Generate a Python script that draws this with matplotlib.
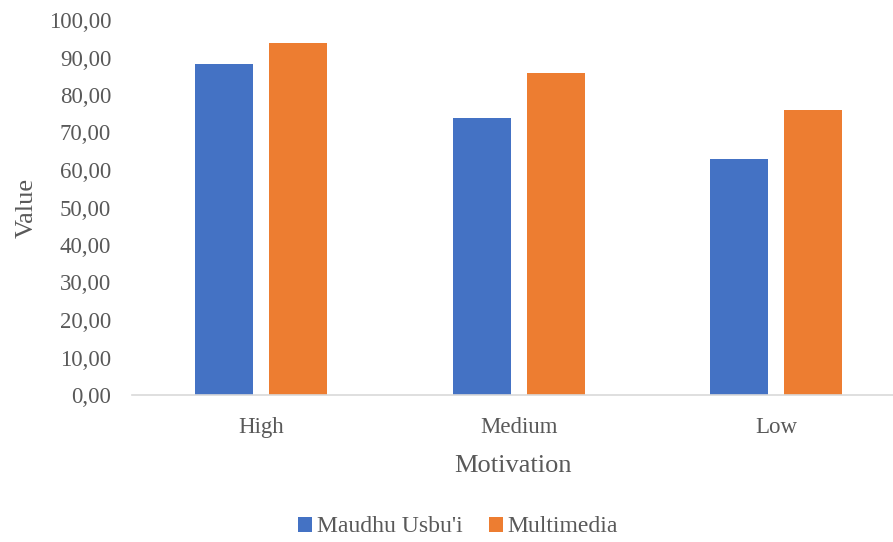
import numpy as np
import matplotlib.pyplot as plt

plt.rcParams["font.family"] = "Liberation Serif"

categories = ["High", "Medium", "Low"]
maudhu = [88.2, 74.0, 62.9]
multimedia = [93.9, 86.0, 76.0]
series_names = ["Maudhu Usbu'i", "Multimedia"]

blue = "#4472C4"
orange = "#ED7D31"
grey = "#595959"

W, H = 893, 542
fig = plt.figure(figsize=(W / 100, H / 100), dpi=100)
ax = fig.add_axes([132 / W, 1 - 395 / H, (W - 132) / W, (395 - 20) / H])

x = np.arange(len(categories))
bw = 0.225
off = 0.1437
ax.bar(x - off, maudhu, bw, color=blue, label=series_names[0])
ax.bar(x + off, multimedia, bw, color=orange, label=series_names[1])

ax.set_xlim(-0.501, 2.454)
ax.set_ylim(0, 100)
ax.set_yticks(np.arange(0, 101, 10))
ax.set_yticklabels([f"{v:.2f}".replace(".", ",") for v in np.arange(0, 101, 10)])
ax.set_xticks(x)
ax.set_xticklabels(categories)

for s in ["top", "right", "left"]:
    ax.spines[s].set_visible(False)
ax.spines["bottom"].set_color("#D9D9D9")
ax.spines["bottom"].set_linewidth(1.2)
ax.tick_params(axis="both", length=0, labelsize=16.5, colors=grey)
ax.tick_params(axis="y", pad=15)
ax.tick_params(axis="x", pad=16)

ax.set_ylabel("Value", fontsize=19, color=grey, labelpad=8)
ax.set_xlabel("Motivation", fontsize=19, color=grey, labelpad=12)

fig.legend(loc="center", bbox_to_anchor=(458 / W, 1 - 527 / H), ncol=2, frameon=False,
           fontsize=17, labelcolor=grey, handlelength=0.6, handleheight=0.6,
           handletextpad=0.2, columnspacing=1.1)

fig.savefig("out.png", dpi=100)
